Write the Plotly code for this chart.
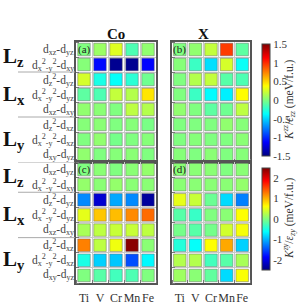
import plotly.graph_objects as go

W, H = 299, 305

metals = ["Ti", "V", "Cr", "Mn", "Fe"]
row_labels = [
    "d<sub>xz</sub>-d<sub>yz</sub>",
    "d<sub>x</sub><sup>2</sup><sub>-y</sub><sup>2</sup>-d<sub>xy</sub>",
    "d<sub>z</sub><sup>2</sup>-d<sub>yz</sub>",
    "d<sub>x</sub><sup>2</sup><sub>-y</sub><sup>2</sup>-d<sub>yz</sub>",
    "d<sub>xz</sub>-d<sub>xy</sub>",
    "d<sub>z</sub><sup>2</sup>-d<sub>xz</sub>",
    "d<sub>x</sub><sup>2</sup><sub>-y</sub><sup>2</sup>-d<sub>xz</sub>",
    "d<sub>xy</sub>-d<sub>yz</sub>",
]
group_names = ["z", "x", "y"]
group_rows = [[0, 1], [2, 3, 4], [5, 6, 7]]
column_titles = ["Co", "X"]
panel_tags = ["(a)", "(b)", "(c)", "(d)"]
cbar_titles = [
    "<i>K</i><sup><i>zz</i></sup>/<i>ε</i><sub><i>zz</i></sub> (meV/f.u.)",
    "<i>K</i><sup><i>zy</i></sup>/<i>ε</i><sub><i>zy</i></sub> (meV/f.u.)",
]

# K^zz / eps_zz (meV/f.u.)
vals_a = [
    [0.0, 0.08, 0.28, -0.15, 0.05],
    [0.02, -1.1, -1.45, -1.45, -1.12],
    [0.25, -0.3, -0.36, -0.25, -0.05],
    [-0.1, -0.15, 0.2, 0.15, 0.45],
    [0.05, 0.03, 0.0, 0.18, 0.15],
    [0.02, 0.03, 0.0, 0.02, -0.02],
    [0.0, 0.05, -0.03, 0.0, 0.02],
    [0.05, 0.0, 0.02, 0.03, 0.0],
]
vals_b = [
    [0.0, 0.05, 0.2, 0.95, -0.1],
    [0.02, -0.2, -0.47, 0.25, -0.35],
    [0.0, 0.15, 0.2, -0.12, -0.15],
    [0.0, -0.2, -0.38, -0.42, 0.38],
    [0.05, 0.0, -0.1, -0.05, 0.18],
    [0.0, 0.0, 0.0, 0.05, 0.02],
    [0.0, 0.02, 0.0, 0.0, 0.03],
    [0.02, 0.0, 0.03, 0.0, 0.02],
]
# K^zy / eps_zy (meV/f.u.)
vals_c = [
    [0.0, 0.05, 0.0, 0.05, 0.1],
    [0.1, 0.05, 0.1, 0.05, 0.05],
    [-1.2, -2.1, -1.05, -1.2, -2.35],
    [0.5, 0.9, 0.95, 1.2, 1.35],
    [0.2, 0.3, 0.35, 0.35, 0.3],
    [1.25, 0.3, 0.55, 2.45, 0.05],
    [-0.5, -0.85, -0.9, -1.5, -0.65],
    [0.0, -0.2, -0.3, -0.25, 0.0],
]
vals_d = [
    [0.05, 0.05, 0.05, 0.0, 0.05],
    [0.05, 0.05, 0.05, 0.05, 0.1],
    [0.5, 0.35, -0.1, -0.8, -1.25],
    [-0.2, -0.35, 0.0, 0.05, 0.62],
    [-0.05, -0.2, -0.05, 0.4, 0.58],
    [-0.45, -0.6, 0.62, 1.05, -0.85],
    [0.25, 0.25, -0.3, -0.2, 0.2],
    [0.15, 0.05, -0.15, -0.8, 0.6],
]

jet = [[0, "rgb(0,0,128)"], [0.125, "rgb(0,0,255)"], [0.375, "rgb(0,255,255)"],
       [0.625, "rgb(255,255,0)"], [0.875, "rgb(255,0,0)"], [1, "rgb(128,0,0)"]]

SERIF = "Liberation Serif"

def px_x(p):
    return p / W

def px_y(p):
    return 1 - p / H

# panel pixel geometry
xl = [(76, 156), (172, 250)]
yt = [(42, 162), (162, 283)]

fig = go.Figure()
panels = [vals_a, vals_b, vals_c, vals_d]
for k, vals in enumerate(panels):
    r, c = divmod(k, 2)
    sfx = "" if k == 0 else str(k + 1)
    xs, ys, cs = [], [], []
    for i, row in enumerate(vals):
        for j, v in enumerate(row):
            xs.append(j)
            ys.append(i)
            cs.append(v)
    fig.add_trace(go.Scatter(
        x=xs, y=ys, mode="markers", xaxis="x" + sfx, yaxis="y" + sfx,
        marker=dict(symbol="square", size=12.5, color=cs,
                    coloraxis="coloraxis" if r == 0 else "coloraxis2",
                    line=dict(color="rgba(90,90,90,0.55)", width=0.8)),
        showlegend=False, hoverinfo="skip"))
    ax = dict(domain=[px_x(xl[c][0]), px_x(xl[c][1])], range=[-0.5, 4.5],
              showline=True, mirror=True, linecolor="#555", linewidth=1.5,
              showgrid=False, zeroline=False, anchor="y" + sfx,
              tickmode="array", tickvals=list(range(len(metals))),
              ticktext=metals if r == 1 else [""] * len(metals),
              tickangle=0, ticks="", ticklabelstandoff=3,
              tickfont=dict(family=SERIF, size=12, color="#333"),
              minor=dict(tick0=0.5, dtick=1, showgrid=True, gridcolor="#c8c8c8",
                         gridwidth=1, ticks="inside", ticklen=3, tickcolor="#777"))
    ay = dict(domain=[px_y(yt[r][1]), px_y(yt[r][0])], range=[7.5, -0.5],
              showline=True, mirror=True, linecolor="#555", linewidth=1.5,
              showgrid=False, zeroline=False, anchor="x" + sfx,
              showticklabels=False, ticks="",
              minor=dict(tick0=0.5, dtick=1, showgrid=True, gridcolor="#c8c8c8",
                         gridwidth=1, ticks="inside", ticklen=3, tickcolor="#777"))
    fig.layout["xaxis" + sfx] = ax
    fig.layout["yaxis" + sfx] = ay
    fig.add_annotation(x=0, y=0, xref="x" + sfx, yref="y" + sfx, text=panel_tags[k],
                       showarrow=False, font=dict(family=SERIF, size=11, color="#222"))

annotations = []
for c, t in enumerate(column_titles):
    annotations.append(dict(x=px_x((xl[c][0] + xl[c][1]) / 2), y=px_y(34), xref="paper",
                            yref="paper", text="<b>" + t + "</b>", showarrow=False,
                            font=dict(family=SERIF, size=15, color="#111"), yanchor="middle"))

for r in range(2):
    yref = "y" if r == 0 else "y3"
    for i, lab in enumerate(row_labels):
        annotations.append(dict(x=px_x(76), y=i, xref="paper", yref=yref, text=lab,
                                showarrow=False, xanchor="right", yanchor="middle",
                                font=dict(family=SERIF, size=11.5, color="#444")))
    for name, rows in zip(group_names, group_rows):
        yc = sum(rows) / len(rows)
        annotations.append(dict(x=px_x(1), y=yc, xref="paper", yref=yref,
                                text="<b>L</b><sub><b>" + name + "</b></sub>",
                                showarrow=False, xanchor="left", yanchor="middle",
                                font=dict(family=SERIF, size=21, color="#111")))

cb_y = [(44, 156), (168, 270)]
for r in range(2):
    annotations.append(dict(x=px_x(289), y=px_y((cb_y[r][0] + cb_y[r][1]) / 2),
                            xref="paper", yref="paper", text=cbar_titles[r],
                            textangle=-90, showarrow=False, xanchor="center", yanchor="middle",
                            font=dict(family=SERIF, size=11.5, color="#333")))
fig.update_layout(annotations=list(fig.layout.annotations) + annotations)

shapes = []
for r in range(2):
    yref = "y" if r == 0 else "y3"
    for yb in [1.5, 4.5] + ([-0.5] if r == 1 else []):
        shapes.append(dict(type="line", xref="paper", yref=yref, x0=px_x(18), x1=px_x(75),
                           y0=yb, y1=yb, line=dict(color="#aaa", width=1)))
fig.update_layout(shapes=shapes)

cb_common = dict(thickness=8, outlinecolor="#444", outlinewidth=1, ticks="",
                 tickfont=dict(family=SERIF, size=11, color="#333"),
                 x=px_x(262), xanchor="left", xpad=0, ypad=0)
fig.update_layout(
    coloraxis=dict(colorscale=jet, cmin=-1.5, cmax=1.5,
                   colorbar=dict(**cb_common, y=px_y(cb_y[0][0]), yanchor="top",
                                 len=(cb_y[0][1] - cb_y[0][0]) / H,
                                 tickvals=[-1.5, -1, -0.5, 0, 0.5, 1, 1.5],
                                 ticktext=["-1.5", "-1", "-0.5", "0", "0.5", "1", "1.5"])),
    coloraxis2=dict(colorscale=jet, cmin=-2.5, cmax=2.5,
                    colorbar=dict(**cb_common, y=px_y(cb_y[1][0]), yanchor="top",
                                  len=(cb_y[1][1] - cb_y[1][0]) / H,
                                  tickvals=[-2, -1, 0, 1, 2],
                                  ticktext=["-2", "-1", "0", "1", "2"])),
    width=W, height=H, margin=dict(l=0, r=0, t=0, b=0),
    paper_bgcolor="white", plot_bgcolor="white",
)

fig.write_html("out.html", config={"displayModeBar": False},
               post_script="document.body.style.margin='0';document.body.style.padding='0';"
                           "document.body.style.overflow='hidden';")
